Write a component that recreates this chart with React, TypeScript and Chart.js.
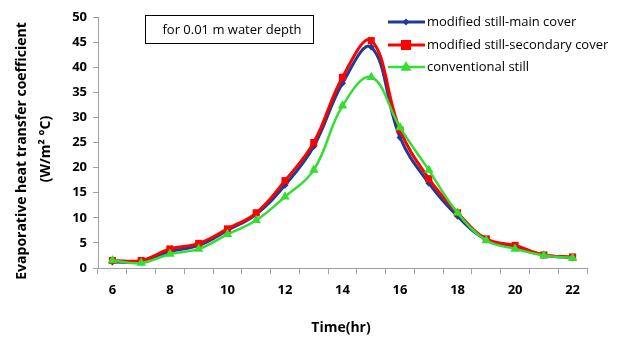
import React, { useEffect, useRef } from "react";
import { Chart, registerables } from "chart.js";

Chart.register(...registerables);

const hours = ["6", "7", "8", "9", "10", "11", "12", "13", "14", "15", "16", "17", "18", "19", "20", "21", "22"];
const mainCover = [1.2, 1.3, 3.3, 4.5, 7.5, 10.7, 16.5, 24.2, 36.8, 44.0, 26.0, 16.9, 10.3, 5.6, 4.2, 2.6, 2.0];
const secondaryCover = [1.5, 1.5, 3.8, 4.9, 7.8, 11.0, 17.4, 25.0, 38.0, 45.3, 27.5, 17.8, 11.0, 5.8, 4.5, 2.6, 2.2];
const conventional = [1.5, 1.0, 2.8, 3.8, 6.7, 9.5, 14.2, 19.5, 32.3, 38.0, 28.0, 19.5, 11.0, 5.5, 3.8, 2.5, 2.0];
const seriesNames = ["modified still-main cover", "modified still-secondary cover", "conventional still"];
const yTitle = ["Evaporative heat transfer coefficient", "(W/m\u00B2 \u00B0C)"];
const xTitle = "Time(hr)";
const noteText = "for 0.01 m water depth";

const FONT = "'Open Sans', Lato, sans-serif";

const decorPlugin = {
  id: "decor",
  afterDraw(chart: any) {
    const ctx = chart.ctx as CanvasRenderingContext2D;
    const area = chart.chartArea;
    ctx.save();
    // Y title
    ctx.fillStyle = "#000";
    ctx.font = `bold 14px ${FONT}`;
    ctx.textAlign = "center";
    ctx.textBaseline = "middle";
    const cy = 151;
    ctx.save();
    ctx.translate(22, cy);
    ctx.rotate(-Math.PI / 2);
    ctx.fillText(yTitle[0], 0, 0);
    ctx.restore();
    ctx.save();
    ctx.translate(46, cy - 2);
    ctx.rotate(-Math.PI / 2);
    ctx.fillText(yTitle[1], 0, 0);
    ctx.restore();
    // X title
    ctx.font = `bold 14px ${FONT}`;
    ctx.fillText(xTitle, 341, 328);
    // Note box
    ctx.strokeStyle = "#000";
    ctx.lineWidth = 1;
    ctx.strokeRect(145.5, 15.5, 168, 28);
    ctx.font = `13px ${FONT}`;
    ctx.fillText(noteText, 232, 30);
    // Legend
    const ds = chart.data.datasets;
    const rows = [22, 45, 67];
    ds.forEach((d: any, i: number) => {
      const y = rows[i];
      ctx.strokeStyle = d.borderColor;
      ctx.lineWidth = d.borderWidth;
      ctx.beginPath();
      ctx.moveTo(388, y);
      ctx.lineTo(425, y);
      ctx.stroke();
      ctx.fillStyle = d.pointBackgroundColor;
      const cx = 406;
      const r = d.pointRadius;
      ctx.beginPath();
      if (d.pointStyle === "rectRot") {
        ctx.moveTo(cx, y - r);
        ctx.lineTo(cx + r, y);
        ctx.lineTo(cx, y + r);
        ctx.lineTo(cx - r, y);
      } else if (d.pointStyle === "rect") {
        ctx.rect(cx - r, y - r, 2 * r, 2 * r);
      } else {
        ctx.moveTo(cx, y - r * 1.1);
        ctx.lineTo(cx + r, y + r * 0.7);
        ctx.lineTo(cx - r, y + r * 0.7);
      }
      ctx.closePath();
      ctx.fill();
      ctx.fillStyle = "#000";
      ctx.font = `13px ${FONT}`;
      ctx.textAlign = "left";
      ctx.fillText(d.label, 427, y);
    });
    ctx.restore();
  },
};

export default function App() {
  const ref = useRef<HTMLCanvasElement>(null);
  useEffect(() => {
    document.body.style.margin = "0";
    const chart = new Chart(ref.current!, {
      type: "line",
      data: {
        labels: hours,
        datasets: [
          {
            label: seriesNames[0],
            data: mainCover,
            borderColor: "#1F3C94",
            backgroundColor: "#1F3C94",
            pointBackgroundColor: "#1F3C94",
            pointBorderColor: "#1F3C94",
            borderWidth: 3,
            pointStyle: "rectRot",
            pointRadius: 3.5,
            pointBorderWidth: 0,
            tension: 0.4,
            order: 3,
          },
          {
            label: seriesNames[1],
            data: secondaryCover,
            borderColor: "#FF0000",
            backgroundColor: "#FF0000",
            pointBackgroundColor: "#FF0000",
            pointBorderColor: "#FF0000",
            borderWidth: 3,
            pointStyle: "rect",
            pointRadius: 5,
            pointBorderWidth: 0,
            tension: 0.4,
            order: 2,
          },
          {
            label: seriesNames[2],
            data: conventional,
            borderColor: "#33DD33",
            backgroundColor: "#33DD33",
            pointBackgroundColor: "#33DD33",
            pointBorderColor: "#33DD33",
            borderWidth: 2.5,
            pointStyle: "triangle",
            pointRadius: 5.5,
            pointBorderWidth: 0,
            tension: 0.4,
            order: 1,
          },
        ],
      },
      options: {
        animation: false,
        responsive: false,
        layout: { padding: { top: 17, right: 43, left: 0, bottom: 0 } },
        plugins: { legend: { display: false }, tooltip: { enabled: false } },
        scales: {
          x: {
            type: "category",
            offset: true,
            afterFit: (s: any) => {
              s.height = 71;
            },
            grid: { offset: true, drawOnChartArea: false, drawTicks: true, tickLength: 6, color: "#A0A0A0" },
            border: { display: true, color: "#A0A0A0", width: 1 },
            ticks: {
              autoSkip: false,
              maxRotation: 0,
              padding: 8,
              color: "#000",
              font: { family: FONT, size: 13, weight: "bold" },
              callback: (_v: any, i: number) => (i % 2 === 0 ? hours[i] : ""),
            },
          },
          y: {
            min: 0,
            max: 50,
            afterFit: (s: any) => {
              s.width = 98;
            },
            grid: { drawOnChartArea: false, drawTicks: true, tickLength: 5, color: "#A0A0A0" },
            border: { display: true, color: "#A0A0A0", width: 1 },
            ticks: {
              stepSize: 5,
              padding: 6,
              color: "#000",
              font: { family: FONT, size: 13, weight: "bold" },
            },
          },
        },
      },
      plugins: [decorPlugin],
    });
    return () => chart.destroy();
  }, []);
  return <canvas ref={ref} width={630} height={339} style={{ display: "block" }} />;
}
